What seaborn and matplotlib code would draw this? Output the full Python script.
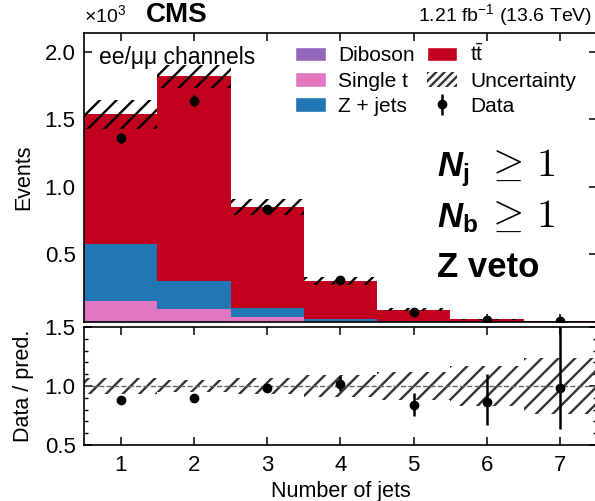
import numpy as np
import pandas as pd
import matplotlib
matplotlib.use("Agg")
import matplotlib.pyplot as plt
import seaborn as sns
from matplotlib.patches import Patch
from matplotlib.ticker import MultipleLocator, FormatStrFormatter, NullLocator

# ---- yields per jet-multiplicity bin (thousands of events) ----
n_jets = [1, 2, 3, 4, 5, 6, 7]
diboson = [0.006, 0.004, 0.002, 0.001, 0.0004, 0.0001, 0.00005]
single_t = [0.150, 0.090, 0.035, 0.009, 0.003, 0.0010, 0.0003]
z_jets = [0.420, 0.210, 0.065, 0.014, 0.003, 0.0008, 0.0002]
ttbar = [0.961, 1.516, 0.752, 0.280, 0.0846, 0.0178, 0.0070]
pred_rel_unc = [0.070, 0.047, 0.068, 0.09, 0.12, 0.17, 0.235]
data = [1.36, 1.64, 0.84, 0.31, 0.076, 0.017, 0.0074]
data_err_lo = [0.036, 0.040, 0.029, 0.018, 0.0085, 0.0038, 0.0026]
data_err_hi = [0.038, 0.041, 0.030, 0.019, 0.0095, 0.0047, 0.0040]

process_names = ["tt", "Z + jets", "Single t", "Diboson"]
process_colors = {"tt": "#c0001c", "Z + jets": "#2077b4",
                  "Single t": "#e277c1", "Diboson": "#9467bd"}

rows = []
for name, vals in zip(process_names, [ttbar, z_jets, single_t, diboson]):
    for nj, v in zip(n_jets, vals):
        rows.append({"n_jets": nj, "events": v, "process": name})
df = pd.DataFrame(rows)

sns.set_theme(style="ticks")
plt.rcParams.update({
    "font.family": ["Liberation Sans", "DejaVu Sans"],
    "mathtext.fontset": "custom",
    "mathtext.rm": "Liberation Sans",
    "mathtext.it": "Liberation Sans:italic",
    "mathtext.bf": "Liberation Sans:bold",
    "mathtext.bfit": "Liberation Sans:italic:bold",
    "mathtext.sf": "Liberation Sans",
    "text.color": "black", "axes.labelcolor": "black",
    "axes.edgecolor": "black",
    "xtick.color": "black", "ytick.color": "black",
    "hatch.linewidth": 1.7,
    "axes.linewidth": 1.2,
    "xtick.direction": "in", "ytick.direction": "in",
    "xtick.top": True, "ytick.right": True,
    "xtick.major.size": 6, "ytick.major.size": 6,
    "xtick.minor.size": 3, "ytick.minor.size": 3,
    "xtick.major.width": 1.1, "ytick.major.width": 1.1,
    "xtick.labelsize": 16, "ytick.labelsize": 16,
    "axes.labelsize": 15.5,
})

fig = plt.figure(figsize=(5.95, 5.01), dpi=100)
ax = fig.add_axes([0.1412, 0.3573, 0.862, 0.5768])
rax = fig.add_axes([0.1412, 0.1118, 0.862, 0.2355])

# ---- stacked prediction ----
sns.histplot(data=df, x="n_jets", weights="events", hue="process",
             hue_order=process_names, palette=process_colors,
             multiple="stack", discrete=True, shrink=1, alpha=1,
             linewidth=0, legend=False, ax=ax)

total = np.array(ttbar) + np.array(z_jets) + np.array(single_t) + np.array(diboson)
unc = total * np.array(pred_rel_unc)
ax.bar(n_jets, 2 * unc, bottom=total - unc, width=1, fill=False,
       hatch="//", edgecolor="black", linewidth=0)

data_arr = np.array(data)
err_lo = np.array(data_err_lo)
err_hi = np.array(data_err_hi)
data_handle = ax.errorbar(n_jets, data_arr, yerr=[err_lo, err_hi], fmt="o",
                          color="black", ms=6, elinewidth=1.8, capsize=0)

ax.set_xlim(0.5, 7.5)
ax.set_ylim(0, 2.14)
ax.set_xticks(n_jets)
ax.set_xticklabels([])
ax.set_xlabel("")
ax.set_yticks([0.5, 1.0, 1.5, 2.0])
ax.yaxis.set_major_formatter(FormatStrFormatter("%.1f"))
ax.xaxis.set_minor_locator(NullLocator())
ax.yaxis.set_minor_locator(NullLocator())
ax.tick_params(axis="y", pad=6)
ax.set_ylabel("Events")
ax.yaxis.set_label_coords(-0.098, 0.5)

# ---- ratio panel ----
rel = np.array(pred_rel_unc)
rax.bar(n_jets, 2 * rel, bottom=1 - rel, width=1, fill=False,
        hatch="//", edgecolor="#333333", linewidth=0)
rax.axhline(1.0, color="#666666", ls="--", lw=1.0)
rax.errorbar(n_jets, data_arr / total, yerr=[err_lo / total, err_hi / total],
             fmt="o", color="black", ms=6, elinewidth=1.8, capsize=0)
rax.set_xlim(0.5, 7.5)
rax.set_ylim(0.5, 1.5)
rax.set_xticks(n_jets)
rax.set_yticks([0.5, 1.0, 1.5])
rax.yaxis.set_major_formatter(FormatStrFormatter("%.1f"))
rax.yaxis.set_minor_locator(MultipleLocator(0.1))
rax.xaxis.set_minor_locator(NullLocator())
rax.tick_params(axis="y", pad=6)
rax.tick_params(axis="x", pad=7)
rax.set_xlabel("Number of jets")
rax.set_ylabel("Data / pred.")
rax.yaxis.set_label_coords(-0.098, 0.5)

# ---- annotations ----
fig.text(84 / 595, 1 - 15 / 501, r"$\times10^{3}$", fontsize=14, ha="left", va="center")
fig.text(146 / 595, 1 - 15 / 501, "CMS", fontsize=20, fontweight="bold", ha="left", va="center")
fig.text(592 / 595, 1 - 15 / 501, r"1.21 fb$^{-1}$ (13.6 TeV)", fontsize=14, ha="right", va="center")
ax.text(0.03, 0.955, "ee/μμ channels", transform=ax.transAxes,
        fontsize=16.5, ha="left", va="top")

sel_x = (437 - 84) / 513
geq_x = (485 - 84) / 513
sel_kw = dict(transform=ax.transAxes, ha="left", va="baseline")
ax.text(sel_x, 1 - (176 - 33) / 289, r"$\mathbfit{N}_{\mathbf{j}}$", fontsize=25, **sel_kw)
ax.text(geq_x, 1 - (176 - 33) / 289, r"$\geq\,1$", fontsize=29, math_fontfamily="cm", **sel_kw)
ax.text(sel_x, 1 - (227 - 33) / 289, r"$\mathbfit{N}_{\mathbf{b}}$", fontsize=25, **sel_kw)
ax.text(geq_x, 1 - (227 - 33) / 289, r"$\geq\,1$", fontsize=29, math_fontfamily="cm", **sel_kw)
ax.text(sel_x, 1 - (277 - 33) / 289, "Z veto", fontsize=25, fontweight="bold", **sel_kw)

handles = [Patch(facecolor=process_colors["Diboson"]),
           Patch(facecolor=process_colors["Single t"]),
           Patch(facecolor=process_colors["Z + jets"]),
           Patch(facecolor=process_colors["tt"]),
           Patch(facecolor="white", edgecolor="#333333", hatch="////", linewidth=0),
           data_handle]
labels = ["Diboson", "Single t", "Z + jets", r"$\mathsf{t}\bar{\mathsf{t}}$", "Uncertainty", "Data"]
fig.legend(handles, labels, loc="upper left", bbox_to_anchor=(285 / 595, 1 - 33 / 501),
           ncol=2, frameon=False, fontsize=15, handlelength=1.45, handleheight=0.72,
           handletextpad=0.6, columnspacing=0.6, labelspacing=0.3, borderpad=0)

fig.savefig("out.png", dpi=100)
